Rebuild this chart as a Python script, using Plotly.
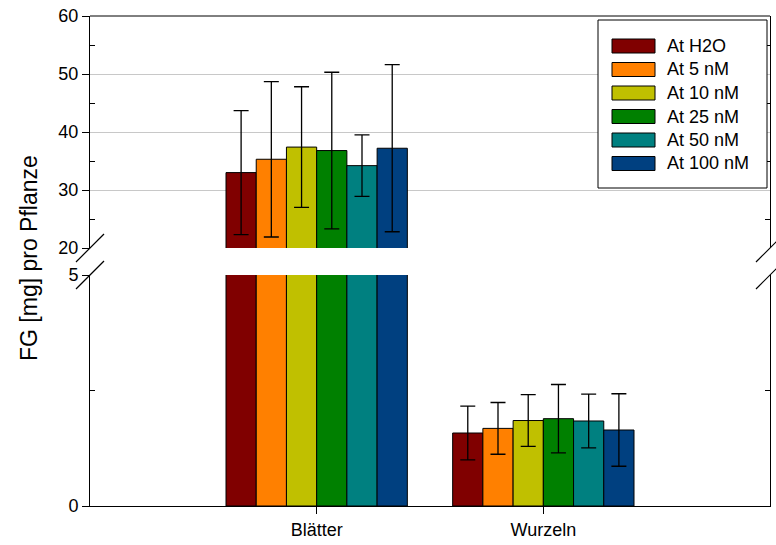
import plotly.graph_objects as go

categories = ["Blätter", "Wurzeln"]
series_names = ["At H2O", "At 5 nM", "At 10 nM", "At 25 nM", "At 50 nM", "At 100 nM"]
colors = ["#800000", "#ff8000", "#c0c000", "#008000", "#008080", "#004080"]

means_blaetter = [33.0, 35.3, 37.4, 36.8, 34.2, 37.2]
err_blaetter = [10.7, 13.4, 10.4, 13.5, 5.3, 14.4]
means_wurzeln = [1.58, 1.68, 1.85, 1.89, 1.84, 1.645]
err_wurzeln = [0.58, 0.56, 0.56, 0.74, 0.58, 0.785]

upper_ticks = [20, 30, 40, 50, 60]
upper_minor = [25, 35, 45, 55]
lower_ticks = [0, 5]
lower_minor = [2.5]

FONT = "Arial, Liberation Sans, sans-serif"

# canvas geometry (pixels)
W, H = 776, 545
ML, MR, MT, MB = 90, 6, 16, 39
PW, PH = W - ML - MR, H - MT - MB
LOWER_TOP = 231 / PH
UPPER_BOT = 258 / PH


def px_x(px):
    return (px - ML) / PW


def px_y(py):
    return (H - MB - py) / PH


fig = go.Figure()
for i, name in enumerate(series_names):
    vals = [means_blaetter[i], means_wurzeln[i]]
    errs = [err_blaetter[i], err_wurzeln[i]]
    for yax in ["y", "y2"]:
        fig.add_trace(go.Bar(
            x=categories, y=vals, name=name, xaxis="x", yaxis=yax,
            marker=dict(color=colors[i], line=dict(color="black", width=1)),
            error_y=dict(type="data", array=errs, visible=True, color="black",
                         thickness=1.3, width=7.5),
            showlegend=False, hoverinfo="x+y",
        ))

grid = "#c8c8c8"
common_y = dict(showline=True, linecolor="black", linewidth=1, zeroline=False,
                showgrid=True, gridcolor=grid, gridwidth=1,
                ticks="outside", ticklen=7, tickcolor="black",
                tickfont=dict(family=FONT, size=18, color="black"))

fig.update_layout(
    width=W, height=H, autosize=False,
    margin=dict(l=ML, r=MR, t=MT, b=MB, autoexpand=False),
    paper_bgcolor="white", plot_bgcolor="white",
    barmode="group", bargap=0.2, bargroupgap=0,
    showlegend=False,
    xaxis=dict(domain=[0, 1], range=[-1, 2], type="category", anchor="y",
               showline=True, linecolor="black", linewidth=1,
               ticks="outside", ticklen=7, tickcolor="black",
               showgrid=False, zeroline=False, automargin=False,
               tickfont=dict(family=FONT, size=18, color="black")),
    yaxis=dict(domain=[0, LOWER_TOP], range=[0, 5], anchor="x", automargin=False,
               tickvals=lower_ticks,
               minor=dict(tickmode="array", tickvals=lower_minor, ticks="inside",
                          ticklen=5, tickcolor="black", showgrid=False),
               **common_y),
    yaxis2=dict(domain=[UPPER_BOT, 1], range=[20, 60], anchor="x", automargin=False,
                tickvals=upper_ticks,
                minor=dict(tickmode="array", tickvals=upper_minor, ticks="inside",
                           ticklen=5, tickcolor="black", showgrid=False),
                **common_y),
    yaxis3=dict(overlaying="y", side="right", anchor="x", range=[0, 5],
                showline=True, linecolor="black", linewidth=1, showgrid=False,
                zeroline=False, ticks="", showticklabels=False, automargin=False,
                tickvals=lower_ticks,
                minor=dict(tickmode="array", tickvals=lower_minor, ticks="inside",
                           ticklen=5, tickcolor="black", showgrid=False)),
    yaxis4=dict(overlaying="y2", side="right", anchor="x", range=[20, 60],
                showline=True, linecolor="black", linewidth=1, showgrid=False,
                zeroline=False, ticks="", showticklabels=False, automargin=False,
                tickvals=upper_ticks,
                minor=dict(tickmode="array", tickvals=upper_minor, ticks="inside",
                           ticklen=5, tickcolor="black", showgrid=False)),
)

# dummy invisible traces to activate overlay axes
fig.add_trace(go.Scatter(x=categories, y=[None, None], xaxis="x", yaxis="y3",
                         showlegend=False, hoverinfo="skip"))
fig.add_trace(go.Scatter(x=categories, y=[None, None], xaxis="x", yaxis="y4",
                         showlegend=False, hoverinfo="skip"))

shapes = []
# top frame
shapes.append(dict(type="line", xref="paper", yref="paper", x0=0, x1=1, y0=1, y1=1,
                   line=dict(color="black", width=1)))
# break marks
for xa in [0, 1]:
    for ya in [UPPER_BOT, LOWER_TOP]:
        shapes.append(dict(type="line", xref="paper", yref="paper",
                           xsizemode="pixel", xanchor=xa, x0=-14, x1=14,
                           ysizemode="pixel", yanchor=ya, y0=-14, y1=14,
                           line=dict(color="black", width=1.2)))

# legend box
lx0, lx1, ly0, ly1 = 598, 767, 20, 188
shapes.append(dict(type="rect", xref="paper", yref="paper",
                   x0=px_x(lx0), x1=px_x(lx1), y0=px_y(ly1), y1=px_y(ly0),
                   fillcolor="white", line=dict(color="black", width=1), layer="above"))
annotations = []
row_y0, row_step = 46.0, 23.5
for i, name in enumerate(series_names):
    cy = row_y0 + i * row_step
    shapes.append(dict(type="rect", xref="paper", yref="paper",
                       x0=px_x(612), x1=px_x(655), y0=px_y(cy + 7), y1=px_y(cy - 7),
                       fillcolor=colors[i], line=dict(color="black", width=1), layer="above"))
    annotations.append(dict(xref="paper", yref="paper", x=px_x(665), y=px_y(cy),
                            text=name, showarrow=False, xanchor="left", yanchor="middle",
                            font=dict(family=FONT, size=18, color="black")))

annotations.append(dict(xref="paper", yref="paper", x=px_x(29), y=px_y(258),
                        text="FG [mg] pro Pflanze", showarrow=False, textangle=-90,
                        xanchor="center", yanchor="middle",
                        font=dict(family=FONT, size=23, color="black")))

fig.update_layout(shapes=shapes, annotations=annotations)
fig.write_html("out.html", config={"responsive": False, "displayModeBar": False},
               post_script="document.body.style.margin='0';document.body.style.padding='0';")
